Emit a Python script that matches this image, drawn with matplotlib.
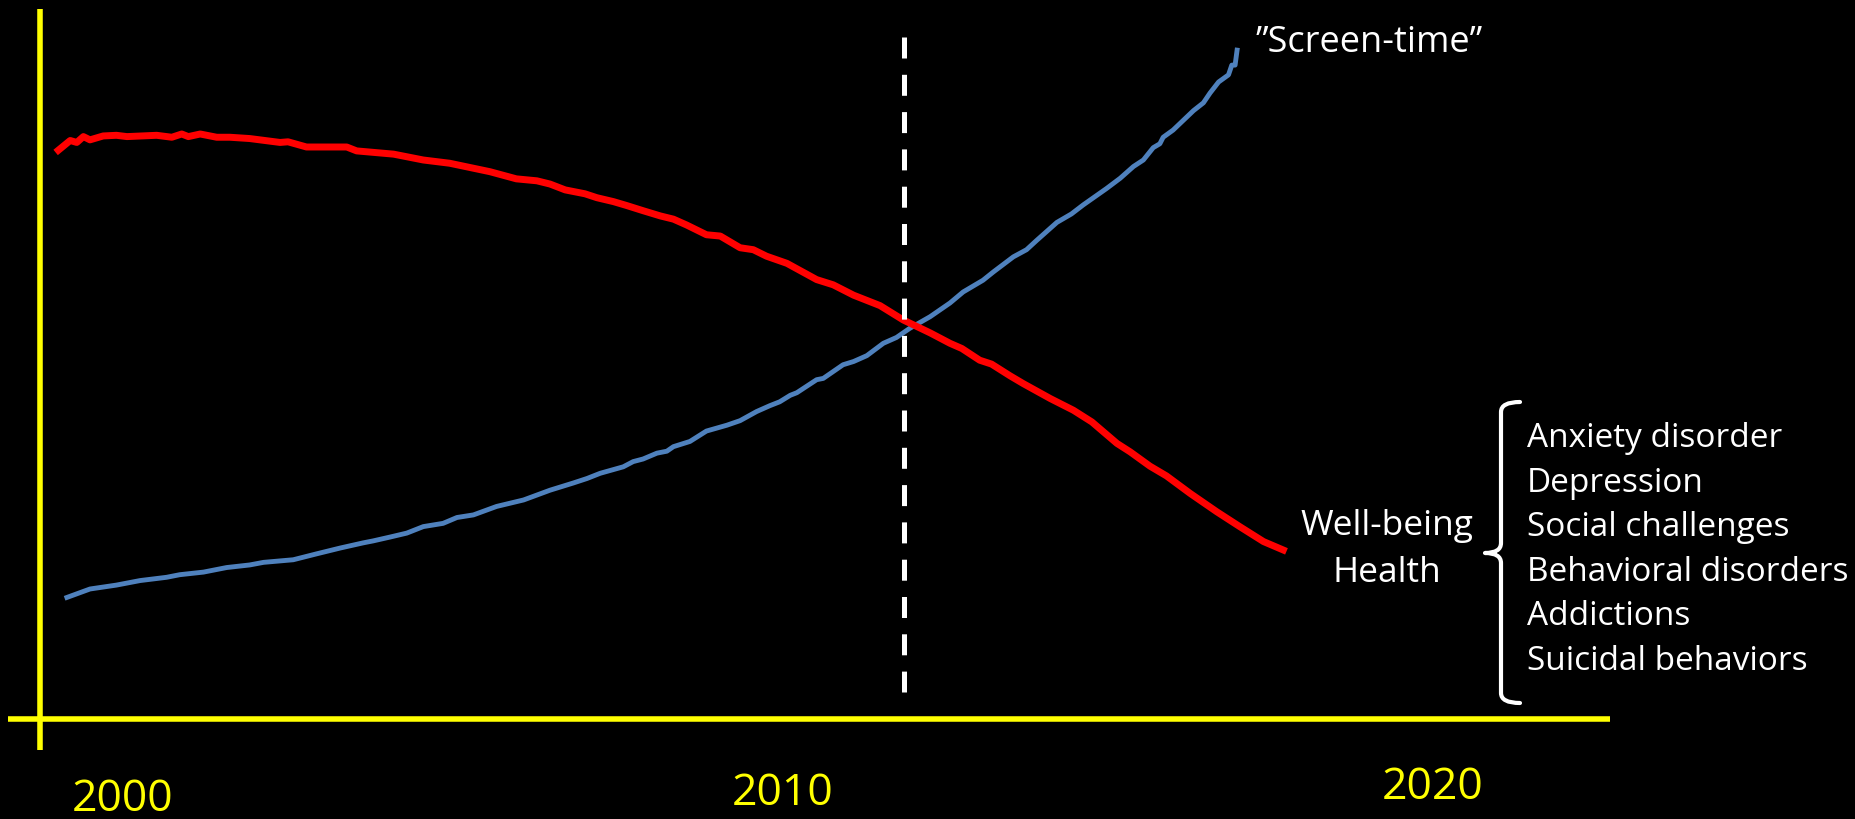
import matplotlib.pyplot as plt
from matplotlib.path import Path
from matplotlib.patches import PathPatch

plt.rcParams["font.family"] = ["Open Sans", "DejaVu Sans"]

# Well-being / health curve (year, relative level)
wellbeing_years = [
    1999.02, 1999.20, 1999.30, 1999.40, 1999.50, 1999.70, 1999.90, 2000.06,
    2000.51, 2000.74, 2000.89, 2000.99, 2001.17, 2001.42, 2001.62, 2001.92,
    2002.38, 2002.50, 2002.78, 2003.39, 2003.54, 2004.10, 2004.55, 2004.95,
    2005.56, 2005.96, 2006.27, 2006.47, 2006.70, 2007.00, 2007.18, 2007.43,
    2007.63, 2007.88, 2008.14, 2008.34, 2008.54, 2008.84, 2009.05, 2009.35,
    2009.55, 2009.75, 2010.06, 2010.51, 2010.76, 2011.07, 2011.47, 2011.82,
    2012.23, 2012.53, 2012.71, 2012.98, 2013.16, 2013.44, 2013.64, 2014.05,
    2014.40, 2014.68, 2015.06, 2015.26, 2015.56, 2015.81, 2016.17, 2016.57,
    2016.92, 2017.28, 2017.58,
]
wellbeing_level = [
    87.5, 89.0, 88.7, 89.6, 89.1, 89.7, 89.8, 89.6,
    89.8, 89.5, 90.0, 89.6, 90.0, 89.5, 89.5, 89.3,
    88.7, 88.8, 88.0, 88.0, 87.4, 86.9, 86.0, 85.5,
    84.2, 83.1, 82.8, 82.3, 81.4, 80.8, 80.2, 79.6,
    79.0, 78.2, 77.4, 76.9, 76.0, 74.5, 74.3, 72.5,
    72.2, 71.2, 70.1, 67.6, 66.8, 65.2, 63.6, 61.4,
    59.4, 57.8, 57.0, 55.2, 54.6, 52.8, 51.6, 49.3,
    47.5, 45.7, 42.4, 41.1, 38.9, 37.4, 34.7, 31.9,
    29.6, 27.3, 26.0,
]

# Screen-time curve (year, relative level)
screen_years = [
    1999.15, 1999.50, 1999.90, 2000.26, 2000.66, 2000.86, 2001.22, 2001.57,
    2001.92, 2002.13, 2002.58, 2002.93, 2003.29, 2003.64, 2003.79, 2004.05,
    2004.30, 2004.55, 2004.85, 2005.06, 2005.31, 2005.66, 2006.07, 2006.47,
    2006.82, 2007.03, 2007.23, 2007.58, 2007.73, 2007.88, 2008.09, 2008.24,
    2008.34, 2008.59, 2008.84, 2009.15, 2009.35, 2009.60, 2009.80, 2009.95,
    2010.11, 2010.21, 2010.51, 2010.61, 2010.91, 2011.07, 2011.27, 2011.52,
    2011.72, 2011.92, 2012.23, 2012.53, 2012.73, 2013.03, 2013.19, 2013.49,
    2013.69, 2013.84, 2014.15, 2014.37, 2014.55, 2014.90, 2015.11, 2015.31,
    2015.46, 2015.61, 2015.71, 2015.76, 2015.91, 2016.22, 2016.37, 2016.47,
    2016.60, 2016.75, 2016.80, 2016.85, 2016.88,
]
screen_level = [
    18.7, 20.0, 20.6, 21.3, 21.8, 22.2, 22.6, 23.3,
    23.7, 24.1, 24.5, 25.4, 26.3, 27.1, 27.4, 28.0,
    28.6, 29.6, 30.1, 31.0, 31.4, 32.7, 33.7, 35.2,
    36.3, 37.0, 37.8, 38.8, 39.6, 40.0, 40.9, 41.2,
    41.9, 42.7, 44.3, 45.2, 45.9, 47.3, 48.2, 48.8,
    49.8, 50.2, 52.2, 52.4, 54.5, 55.0, 55.9, 57.8,
    58.7, 60.1, 61.9, 64.0, 65.7, 67.5, 68.8, 71.1,
    72.2, 73.6, 76.4, 77.7, 79.1, 81.6, 83.2, 85.0,
    86.0, 87.9, 88.5, 89.5, 90.6, 93.6, 94.8, 96.3,
    98.0, 99.1, 100.6, 100.6, 102.9,
]

crossover_year = 2011.83
tick_years = [2000, 2010, 2020]
tick_labels = ["2000", "2010", "2020"]
outcome_labels = ["Well-being", "Health"]
outcomes = [
    "Anxiety disorder",
    "Depression",
    "Social challenges",
    "Behavioral disorders",
    "Addictions",
    "Suicidal behaviors",
]

W, H = 1856, 819
fig = plt.figure(figsize=(W / 100, H / 100), dpi=100, facecolor="black")
ax = fig.add_axes([0, 0, 1, 1])
ax.set_facecolor("black")
ax.axis("off")

# pixel layout -> data coordinates (66 px per year, 6.5 px per level unit)
def px2x(px):
    return 2000 + (px - 123) / 66.0


def py2y(py):
    return (719 - py) / 6.5


ax.set_xlim(px2x(0), px2x(W))
ax.set_ylim(py2y(H), py2y(0))

# hand-drawn style axes
ax.plot([px2x(8), px2x(1610)], [0, 0], color="#FFFF00", lw=4, solid_capstyle="butt")
ax.plot([px2x(40), px2x(40)], [py2y(9), py2y(750)], color="#FFFF00", lw=4,
        solid_capstyle="butt")

ax.plot(screen_years, screen_level, color="#4F81BD", lw=3.5, zorder=3)
ax.plot(wellbeing_years, wellbeing_level, color="#FF0000", lw=5, zorder=4)

# dashed marker drawn from the top; 18 dashes so both ends finish on a dash
ax.plot([crossover_year, crossover_year], [py2y(37), py2y(692)], color="white",
        lw=3.6, linestyle=(0, (4.2, 3.26)), solid_capstyle="butt", zorder=5)

label_dx_px = [0, 0, -10]
label_y_px = [800, 794, 788]
for yr, lab, dx, py in zip(tick_years, tick_labels, label_dx_px, label_y_px):
    ax.text(yr + dx / 66.0, py2y(py), lab, color="#FFFF00", fontsize=32,
            ha="center", va="center")

ax.text(px2x(1256), py2y(52), "\u201dScreen-time\u201d", color="white",
        fontsize=26, ha="left", va="baseline")

for i, lab in enumerate(outcome_labels):
    ax.text(px2x(1387), py2y(535 + 47 * i), lab, color="white", fontsize=25.5,
            ha="center", va="baseline")

for i, lab in enumerate(outcomes):
    ax.text(px2x(1527), py2y(447 + 44.6 * i), lab, color="white", fontsize=24,
            ha="left", va="baseline")

# curly brace
def f(px, py):
    return (px / W, 1 - py / H)


bx = 1501
verts = [
    f(bx + 19, 402), f(bx, 402), f(bx, 412),
    f(bx, 543),
    f(bx, 553), f(bx - 16, 553),
    f(bx, 553), f(bx, 563),
    f(bx, 693),
    f(bx, 703), f(bx + 19, 703),
]
codes = [
    Path.MOVETO, Path.CURVE3, Path.CURVE3,
    Path.LINETO,
    Path.CURVE3, Path.CURVE3,
    Path.CURVE3, Path.CURVE3,
    Path.LINETO,
    Path.CURVE3, Path.CURVE3,
]
brace = PathPatch(Path(verts, codes), transform=fig.transFigure, fill=False,
                  edgecolor="white", lw=3, capstyle="round", joinstyle="round")
fig.patches.append(brace)

fig.savefig("out.png", dpi=100, facecolor="black")
